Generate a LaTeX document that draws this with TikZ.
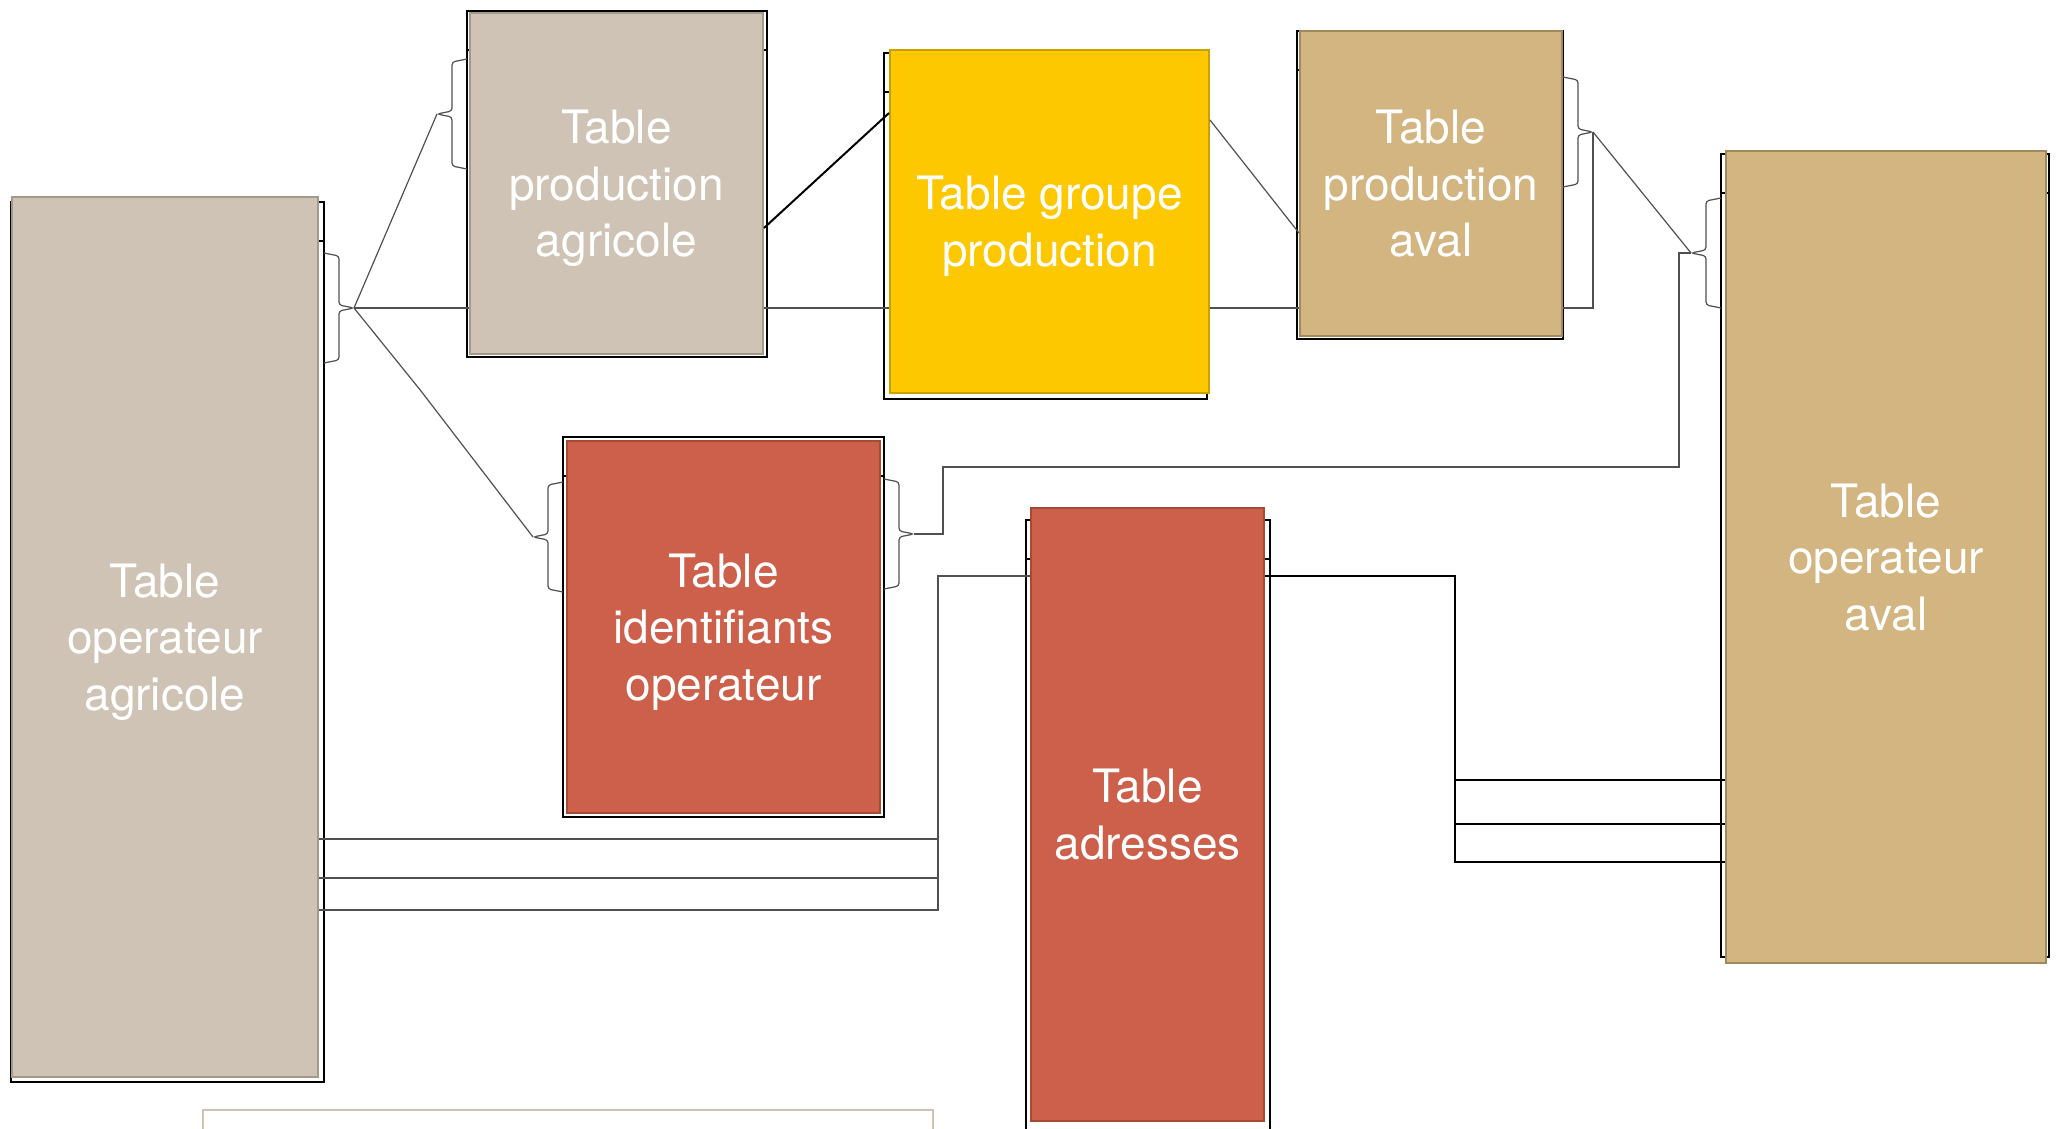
\documentclass[tikz,border=0pt]{standalone}
\usepackage{xcolor}
\usepackage{fontspec}
\setmainfont{TeX Gyre Heros}
\usepackage{tikz}
\usetikzlibrary{positioning, calc}

\definecolor{taupe}{HTML}{CFC3B5}
\definecolor{taupeline}{HTML}{A39A8C}
\definecolor{jaune}{HTML}{FDC800}
\definecolor{jauneline}{HTML}{C8A000}
\definecolor{sable}{HTML}{D2B580}
\definecolor{sableline}{HTML}{A08A5C}
\definecolor{brique}{HTML}{CD604A}
\definecolor{briqueline}{HTML}{A64A38}
\definecolor{trait}{HTML}{505050}

\begin{document}
\begin{tikzpicture}[
    x=0.5pt, y=-0.5pt,
    tbl/.style={rectangle, draw, line width=1pt, text=white, align=center, inner sep=0pt, text depth=0pt, font=\fontsize{23}{28.3}\selectfont},
    frame/.style={draw=black, line width=1pt},
    link/.style={draw=trait, line width=0.6pt},
    bold/.style={draw=black, line width=1pt},
    pics/brace/.style={code={\draw[link, rounded corners=1.5pt] (0,-55) -- (#1*15,-52) -- (#1*15,-3) -- (#1*30,0) -- (#1*15,3) -- (#1*15,52) -- (0,55);}}
]
\useasboundingbox (0,0) rectangle (2063,1129);

% Table frames
\draw[frame] (11,202) rectangle (324,1082) (11,241) -- (324,241);
\draw[frame] (467,11) rectangle (767,357) (467,50) -- (767,50);
\draw[frame] (884,53) rectangle (1207,399) (884,92) -- (1207,92);
\draw[frame] (1297,31) rectangle (1563,339) (1297,70) -- (1563,70);
\draw[frame] (1721,154) rectangle (2049,957) (1721,193) -- (2049,193);
\draw[frame] (563,437) rectangle (884,817) (563,476) -- (884,476);
\draw[frame] (1026,520) rectangle (1270,1140) (1026,559) -- (1270,559);
\draw[draw=taupe, line width=1pt] (203,1110) rectangle (933,1150);

% Tables
\node[tbl, fill=taupe, draw=taupeline, minimum width=153pt, minimum height=440pt] (opagri) at (165,637) {Table\\operateur\\agricole};
\node[tbl, fill=taupe, draw=taupeline, minimum width=146.5pt, minimum height=170.5pt] (prodagri) at (616.5,183.5) {Table\\production\\agricole};
\node[tbl, fill=jaune, draw=jauneline, minimum width=159.5pt, minimum height=171.5pt] (grpprod) at (1049.5,221.5) {Table groupe\\production};
\node[tbl, fill=sable, draw=sableline, minimum width=131pt, minimum height=152.5pt] (prodaval) at (1431,183.5) {Table\\production\\aval};
\node[tbl, fill=sable, draw=sableline, minimum width=160pt, minimum height=406pt] (opaval) at (1886,557) {Table\\operateur\\aval};
\node[tbl, fill=brique, draw=briqueline, minimum width=156.5pt, minimum height=186pt] (identop) at (723.5,627) {Table\\identifiants\\operateur};
\node[tbl, fill=brique, draw=briqueline, minimum width=116.5pt, minimum height=306.5pt] (adresses) at (1147.5,814.5) {Table\\adresses};

% Braces
\pic at (324,308) {brace=1};
\pic at (467,114) {brace=-1};
\pic at (563,537) {brace=-1};
\pic at (884,534) {brace=1};
\pic at (1563,132) {brace=1};
\pic at (1721,253) {brace=-1};
\coordinate (tipA) at (354,308);
\coordinate (tipB) at (437,114);
\coordinate (tipFl) at (533,537);
\coordinate (tipFr) at (914,534);
\coordinate (tipD) at (1593,132);
\coordinate (tipE) at (1691,253);
\coordinate (busW) at (938,576);
\coordinate (busE) at (1455,576);

% Operateur agricole
\draw[link] (tipA) -- (tipB);
\draw[link] (tipA) -- (prodagri.west |- tipA);
\draw[link] (tipA) -- (421,391) -- (tipFl);

% Production chain
\draw[bold] (prodagri.east |- 0,228) -- (grpprod.west |- 0,113);
\draw[link] (prodagri.east |- tipA) -- (grpprod.west |- tipA);
\draw[link] (grpprod.east |- 0,120) -- (prodaval.west |- 0,233);
\draw[link] (grpprod.east |- tipA) -- (prodaval.west |- tipA);
\draw[link] (prodaval.east |- tipA) -| (tipD);
\draw[link] (tipD) -- (tipE);
\draw[link] (tipE) -- ++(-12,0) |- (943,467) |- (tipFr);

% Adresses
\draw[link] (adresses.west |- busW) -| (busW |- 0,910) -- (opagri.east |- 0,910);
\draw[link] (opagri.east |- 0,839) -- (busW |- 0,839);
\draw[link] (opagri.east |- 0,878) -- (busW |- 0,878);
\draw[bold] (adresses.east |- busE) -| (busE |- 0,862) -- (opaval.west |- 0,862);
\draw[bold] (busE |- 0,780) -- (opaval.west |- 0,780);
\draw[bold] (busE |- 0,824) -- (opaval.west |- 0,824);

\end{tikzpicture}
\end{document}
